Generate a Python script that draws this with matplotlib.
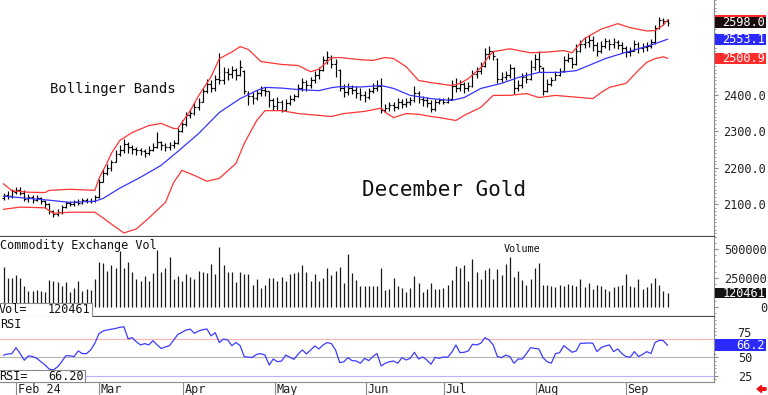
import matplotlib
matplotlib.use('Agg')
import matplotlib.pyplot as plt
from matplotlib.patches import Rectangle, FancyArrow
import matplotlib.transforms as mtrans
from matplotlib.ticker import MultipleLocator, FixedLocator

plt.rcParams['font.family'] = ['DejaVu Sans Mono', 'DejaVu Sans']

# ---------------- data (daily bars, December Gold) ----------------
opens = [2118,2126,2122,2134,2140,2132,2115,2120,2112,2118,
         2108,2100,2080,2072,2078,2092,2104,2100,2106,2103,
         2112,2108,2110,2120,2160,2185,2200,2215,2238,2250,
         2265,2258,2252,2248,2245,2240,2250,2258,2270,2262,
         2258,2262,2268,2300,2320,2345,2350,2368,2382,2410,
         2430,2418,2445,2440,2462,2458,2468,2455,2465,2405,
         2398,2392,2405,2415,2410,2385,2370,2380,2360,2378,
         2390,2396,2420,2435,2428,2440,2455,2470,2495,2505,
         2485,2470,2420,2408,2418,2415,2405,2400,2395,2410,
         2420,2425,2360,2365,2372,2368,2382,2375,2380,2385,
         2405,2390,2385,2378,2362,2380,2385,2382,2388,2425,
         2420,2430,2418,2425,2458,2465,2480,2512,2520,2500,
         2445,2450,2455,2475,2420,2428,2450,2445,2478,2500,
         2475,2412,2430,2442,2455,2465,2495,2502,2485,2520,
         2540,2545,2550,2538,2520,2535,2548,2540,2545,2538,
         2530,2518,2522,2540,2528,2532,2535,2545,2585,2605,
         2602]
highs = [2132,2135,2142,2148,2147,2138,2128,2124,2126,2120,
         2112,2102,2085,2088,2098,2108,2110,2112,2114,2118,
         2116,2118,2125,2168,2198,2210,2222,2248,2262,2278,
         2270,2262,2258,2255,2252,2260,2268,2298,2275,2268,
         2272,2276,2308,2332,2352,2362,2380,2392,2420,2445,
         2440,2455,2515,2478,2474,2480,2475,2495,2470,2410,
         2408,2415,2426,2422,2412,2392,2395,2385,2388,2400,
         2404,2430,2448,2440,2450,2465,2478,2508,2522,2510,
         2500,2472,2430,2432,2428,2426,2418,2410,2420,2432,
         2440,2448,2375,2382,2380,2392,2390,2392,2394,2425,
         2410,2396,2394,2385,2388,2393,2392,2395,2440,2446,
         2442,2436,2435,2470,2478,2490,2528,2535,2522,2502,
         2462,2465,2485,2478,2440,2460,2462,2495,2512,2522,
         2478,2445,2450,2465,2475,2508,2516,2505,2540,2552,
         2558,2565,2562,2545,2548,2556,2555,2556,2552,2545,
         2535,2532,2552,2545,2542,2545,2555,2592,2615,2612,
         2610]
lows = [2112,2114,2118,2128,2125,2110,2106,2104,2108,2100,
        2090,2072,2064,2068,2074,2090,2095,2096,2098,2100,
        2102,2104,2105,2118,2160,2180,2192,2215,2232,2242,
        2240,2238,2236,2234,2230,2235,2245,2255,2250,2246,
        2250,2255,2265,2298,2315,2338,2345,2360,2380,2405,
        2408,2412,2430,2430,2440,2448,2442,2452,2404,2372,
        2375,2385,2398,2396,2368,2358,2360,2352,2358,2372,
        2384,2394,2412,2410,2420,2432,2445,2465,2485,2475,
        2450,2410,2395,2400,2402,2392,2385,2380,2388,2405,
        2410,2350,2352,2356,2357,2362,2365,2368,2372,2380,
        2378,2370,2366,2352,2355,2375,2374,2378,2385,2408,
        2412,2405,2410,2422,2448,2458,2478,2500,2495,2432,
        2435,2440,2448,2402,2410,2420,2432,2442,2470,2462,
        2400,2408,2425,2440,2452,2462,2490,2474,2482,2518,
        2530,2532,2522,2508,2515,2528,2525,2530,2526,2516,
        2505,2508,2520,2516,2518,2522,2530,2540,2582,2592,
        2590]
closes = [2125,2122,2135,2140,2132,2115,2120,2112,2118,2108,
          2100,2080,2072,2078,2092,2104,2100,2106,2103,2112,
          2108,2110,2120,2160,2185,2200,2215,2238,2250,2265,
          2258,2252,2248,2245,2240,2250,2258,2270,2262,2258,
          2262,2268,2300,2320,2345,2350,2368,2382,2410,2430,
          2418,2445,2440,2462,2458,2468,2455,2478,2412,2398,
          2392,2405,2415,2410,2385,2370,2380,2360,2378,2390,
          2396,2420,2435,2428,2440,2455,2470,2495,2505,2485,
          2490,2420,2408,2418,2415,2405,2400,2395,2410,2420,
          2425,2360,2365,2372,2368,2382,2375,2380,2385,2405,
          2390,2385,2378,2362,2380,2385,2382,2388,2425,2420,
          2430,2418,2425,2458,2465,2480,2512,2520,2508,2445,
          2450,2455,2475,2420,2428,2450,2445,2478,2500,2480,
          2412,2430,2442,2455,2465,2495,2502,2485,2520,2540,
          2545,2550,2538,2520,2535,2548,2540,2545,2538,2530,
          2518,2522,2540,2528,2532,2535,2545,2585,2605,2602,
          2598.0]

# Bollinger bands (bar index, value)
bb_upper_idx = [0,2,6,10,11,16,22,23,25,26,28,31,35,38,41,42,45,47,50,52,
                55,57,59,62,67,71,74,76,79,81,86,89,92,94,97,100,103,108,110,112,
                115,117,118,122,127,131,135,137,140,144,148,151,155,157,159,160]
bb_upper = [2156,2137,2133,2132,2138,2141,2138,2171,2215,2240,2275,2297,2316,2322,2308,2308,2357,2398,2450,2500,
            2518,2533,2525,2492,2484,2481,2464,2471,2502,2503,2497,2495,2503,2500,2478,2440,2434,2426,2432,2445,
            2475,2508,2519,2527,2516,2518,2522,2516,2555,2581,2596,2585,2576,2577,2592,2606]
bb_mid_idx = [0,6,11,16,22,24,28,33,38,42,47,52,57,61,63,67,71,76,79,81,
              86,91,94,98,103,108,111,115,120,124,129,134,138,141,145,149,153,157,160]
bb_mid = [2122,2116,2111,2105,2108,2116,2144,2174,2207,2245,2294,2352,2390,2412,2421,2419,2415,2412,2420,2423,
          2422,2426,2418,2399,2390,2385,2393,2418,2432,2448,2462,2462,2467,2481,2500,2514,2527,2541,2553.1]
bb_lower_idx = [0,4,10,12,16,22,24,27,29,32,35,39,41,43,46,49,52,56,58,61,
                63,67,71,76,79,82,87,91,92,94,97,100,103,105,109,111,115,118,122,126,
                129,133,142,144,146,150,153,155,157,159,160]
bb_lower = [2086,2092,2090,2075,2078,2078,2062,2037,2021,2032,2062,2105,2160,2193,2179,2163,2171,2212,2267,2330,
            2357,2357,2349,2344,2341,2349,2355,2364,2352,2338,2349,2347,2341,2338,2330,2344,2366,2399,2399,2404,
            2393,2399,2390,2407,2421,2432,2468,2490,2500,2505,2500.9]

# Volume in thousands of contracts
volume_k = [349,253,253,279,253,180,137,137,151,137,
            131,235,224,215,180,218,128,166,224,137,
            157,151,244,387,378,311,360,340,485,337,
            387,305,244,224,267,224,297,491,302,340,
            433,244,267,224,282,262,244,311,302,297,
            369,288,515,358,305,302,215,305,282,288,
            195,244,166,195,253,253,224,262,224,288,
            291,305,360,302,224,282,224,253,340,276,
            311,349,209,456,297,238,186,180,180,180,
            180,334,
            151,157,253,180,166,131,166,265,209,128,
            160,209,157,157,166,189,238,352,340,366,
            224,413,302,244,323,337,244,328,273,369,
            430,259,311,230,195,244,337,378,195,189,
            180,172,189,186,201,192,180,244,172,209,
            160,189,180,160,142,174,180,195,288,180,
            172,244,157,172,206,253,195,137,120.461]

rsi = [53,54.5,55,63,55,46,52,51,48.6,44,
       39.6,34,33,37,44,52,52,51,58.6,55,
       55,60,69,82,85.6,87,88,89,90.5,91.4,
       75,76.6,71,66.7,68.5,66.7,72.5,66.7,62,64,
       65.8,73.4,81,83.8,87,88,82.4,85.6,87.4,88.3,
       79,83.3,70,74.8,73.4,65.8,70,65.8,51,50,
       50,54,55,53,39.6,47.7,44,45,53,50,
       47.3,54.5,60,54.5,60,65.3,61.3,66.7,70,68.5,
       60,42.8,44,49.5,45.5,45,42,48.6,45.5,51,
       55,38.3,
       42,44,45,42,49.5,46.4,48.6,56.8,47.7,50.5,
       46.4,40.5,50,48.6,50.5,50,56.8,66.7,56.3,56.8,
       58.6,67.6,66.7,69,76.6,73.4,66.7,51,49.5,53,
       51,42,47.7,47.7,55,63,62,61.3,49.5,44,
       42,55,56.3,65.8,61.3,56.8,58.6,69,69,69.4,
       69,57.7,63,65.3,66.7,57.7,61.3,55,51,50,
       57.7,51,54,57.7,55,70,73,72.5,66.2]

month_pos = [3, 23, 43.2, 65.4, 87.3, 106.1, 128.3, 150]
month_labels = ['Feb 24', 'Mar', 'Apr', 'May', 'Jun', 'Jul', 'Aug', 'Sep']
price_ticks = [2100, 2200, 2300, 2400, 2500, 2600]
price_hidden = [2500, 2600]          # labels covered by the value boxes in the reference
vol_ticks = [0, 250000, 500000]
rsi_ticks = [25, 50, 75]
last_vol = 120461
last_rsi = 66.20

# ---------------- layout ----------------
W, H = 768, 395
fig = plt.figure(figsize=(W / 100, H / 100), dpi=100)
fig.patch.set_facecolor('white')
AXR = 714


def add_ax(x0, y0, x1, y1):
    return fig.add_axes([x0 / W, 1 - y1 / H, (x1 - x0) / W, (y1 - y0) / H])


ax_p = add_ax(0, 0, AXR, 237)
ax_v = add_ax(0, 237, AXR, 317)
ax_r = add_ax(0, 317, AXR, 382)

n = len(closes)
idx = list(range(n))
XL = (-0.86, 171.2)
FS = 8.6
GRAY = '#8a8a8a'
SEP = '#4a4a4a'

for ax in (ax_p, ax_v, ax_r):
    ax.set_xlim(*XL)
    for s in ('top', 'left'):
        ax.spines[s].set_visible(False)
    ax.spines['right'].set_color(GRAY)
    ax.spines['right'].set_linewidth(0.8)
    ax.yaxis.tick_right()
    ax.set_facecolor('white')

ax_p.spines['bottom'].set_color(SEP)
ax_p.spines['bottom'].set_linewidth(1.6)
ax_v.spines['bottom'].set_color(SEP)
ax_v.spines['bottom'].set_linewidth(1.6)
ax_r.spines['bottom'].set_color(GRAY)
ax_r.spines['bottom'].set_linewidth(0.8)

# ---------------- price panel ----------------
ax_p.set_ylim(2009.9, 2661)
ax_p.vlines(idx, lows, highs, color='black', lw=0.85)
ax_p.hlines(opens, [i - 0.45 for i in idx], idx, color='black', lw=0.85)
ax_p.hlines(closes, idx, [i + 0.45 for i in idx], color='black', lw=0.85)
ax_p.plot(bb_upper_idx, bb_upper, color='#ff3535', lw=0.9)
ax_p.plot(bb_lower_idx, bb_lower, color='#ff3535', lw=0.9)
ax_p.plot(bb_mid_idx, bb_mid, color='#3535ff', lw=0.9)
ax_p.set_xticks([])
ax_p.yaxis.set_major_locator(FixedLocator(price_ticks))
ax_p.set_yticklabels(['' if v in price_hidden else f'{v:.1f}' for v in price_ticks])
ax_p.yaxis.set_minor_locator(MultipleLocator(10))
ax_p.tick_params(axis='y', which='major', length=3, color=GRAY, labelsize=FS,
                 pad=3.6, labelcolor='#222222')
ax_p.tick_params(axis='y', which='minor', length=1.5, color=GRAY)

# ---------------- volume panel ----------------
ax_v.set_ylim(-83000, 601900)
ax_v.vlines(idx, 0, [v * 1000 for v in volume_k], color='#1a1a1a', lw=0.9)
ax_v.set_xticks([])
ax_v.yaxis.set_major_locator(FixedLocator(vol_ticks))
ax_v.set_yticklabels([f'{v:d}' for v in vol_ticks])
ax_v.yaxis.set_minor_locator(MultipleLocator(50000))
ax_v.tick_params(axis='y', which='major', length=3, color=GRAY, labelsize=FS,
                 pad=35.3, labelcolor='#222222')
ax_v.tick_params(axis='y', which='minor', length=1.5, color=GRAY)
for t in ax_v.get_yticklabels():
    t.set_horizontalalignment('right')

# ---------------- RSI panel ----------------
ax_r.set_ylim(16.6, 104.5)
ax_r.axhline(75, color='#ffb4b4', lw=0.8)
ax_r.axhline(50, color='#b4b4b4', lw=0.8)
ax_r.axhline(25, color='#b4b4ff', lw=0.8)
ax_r.plot(idx, rsi, color='#3c3cff', lw=0.9)
ax_r.yaxis.set_major_locator(FixedLocator(rsi_ticks))
# the "75" label is drawn separately, just above the RSI value box
ax_r.set_yticklabels(['' if v == 75 else str(v) for v in rsi_ticks])
ax_r.yaxis.set_minor_locator(MultipleLocator(5))
ax_r.tick_params(axis='y', which='major', length=3, color=GRAY, labelsize=FS,
                 pad=14.4, labelcolor='#222222')
ax_r.tick_params(axis='y', which='minor', length=1.5, color=GRAY)
ax_r.set_xticks(month_pos)
ax_r.tick_params(axis='x', length=9.4, width=0.8, color=GRAY, labelbottom=False)
bt = mtrans.blended_transform_factory(ax_r.transData, ax_r.transAxes)
for p, lab in zip(month_pos, month_labels):
    ax_r.text(p + 0.4, -0.115, lab, transform=bt, ha='left', va='center',
              fontsize=8.5, color='#222222', clip_on=False)


# ---------------- value boxes on the right axis ----------------
def value_box(ax, val, text, fc, h_px, z):
    y0, y1 = ax.get_ylim()
    ax_h = ax.get_position().height * H
    h = (y1 - y0) / ax_h * h_px
    tr = mtrans.blended_transform_factory(ax.transAxes, ax.transData)
    ax.add_patch(Rectangle((715 / AXR, val - h / 2), 51 / AXR, h, transform=tr,
                           facecolor=fc, edgecolor='none', clip_on=False, zorder=z))
    if text:
        ax.text(765 / AXR, val, text, transform=tr, ha='right', va='center',
                color='white', fontsize=FS, clip_on=False, zorder=z + 0.5)


# upper band box sits mostly hidden behind the close box, as in the reference
value_box(ax_p, bb_upper[-1], '', '#ff2a2a', 11, 5)
value_box(ax_p, closes[-1], f'{closes[-1]:.1f}', '#1a0c0c', 11, 6)
value_box(ax_p, bb_mid[-1], f'{bb_mid[-1]:.1f}', '#2a2aff', 11, 6)
value_box(ax_p, bb_lower[-1], f'{bb_lower[-1]:.1f}', '#ff2a2a', 11, 6)
value_box(ax_v, last_vol, f'{last_vol}', '#141414', 10, 6)
value_box(ax_r, last_rsi, f'{last_rsi:.1f}', '#2a2aff', 12, 6)


# ---------------- panel captions ----------------
def ftext(x, y, s, **kw):
    fig.text(x / W, 1 - y / H, s, ha=kw.pop('ha', 'left'), va='center',
             color=kw.pop('color', '#111111'), **kw)


ftext(50, 89.5, 'Bollinger Bands', fontsize=10)
ftext(362, 189.5, 'December Gold', fontsize=15)
ftext(0, 245, 'Commodity Exchange Vol', fontsize=8.5)
ftext(504, 249.5, 'Volume', fontsize=7.3)
ftext(0, 324.5, 'RSI', fontsize=8.5)
ftext(737, 333.5, '75', fontsize=FS, color='#222222')

# readout boxes at lower left of volume and RSI panels
ax_v.add_patch(Rectangle((-0.01, (-83000)), 0.01 + 92 / AXR, (317 - 303) / 80 * (601900 + 83000),
                         facecolor='white', edgecolor=GRAY, lw=0.8, zorder=4,
                         transform=mtrans.blended_transform_factory(ax_v.transAxes, ax_v.transData),
                         clip_on=False))
ftext(-1, 309.5, 'Vol=', fontsize=8.5, zorder=5)
ftext(90, 309.5, f'{last_vol}', fontsize=8.5, ha='right', zorder=5)
ax_r.add_patch(Rectangle((-0.01, 0), 0.01 + 85 / AXR, (382 - 370) / 65,
                         facecolor='white', edgecolor=GRAY, lw=0.8, zorder=4,
                         transform=ax_r.transAxes, clip_on=False))
ftext(-1, 376, 'RSI=', fontsize=8.5, zorder=5)
ftext(84, 376, f'{last_rsi:.2f}', fontsize=8.5, ha='right', zorder=5)

# small red arrow at bottom right
fig.patches.append(FancyArrow(766 / W, 1 - 389 / H, -9 / W, 0, width=2.6 / H,
                              head_width=7 / H, head_length=4.5 / W,
                              length_includes_head=True, color='#ee1111',
                              transform=fig.transFigure, figure=fig))

fig.savefig('out.png', dpi=100, facecolor='white')
